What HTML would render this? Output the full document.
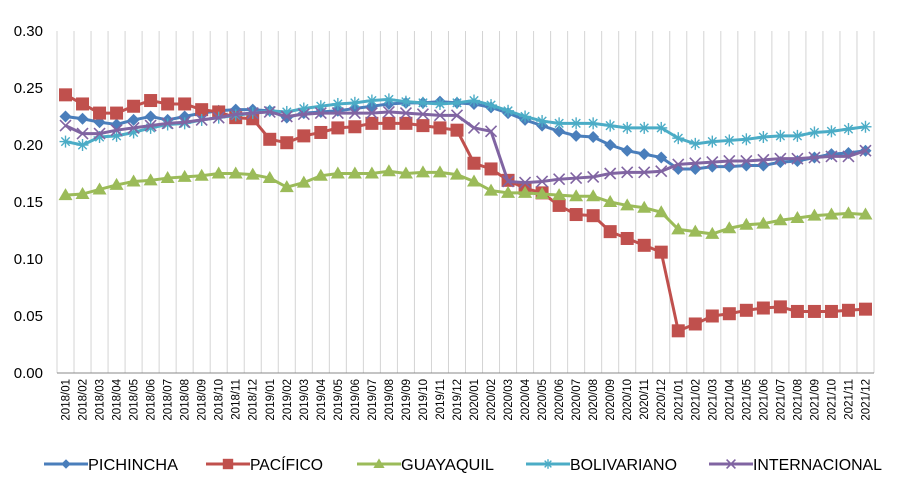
<!DOCTYPE html>
<html><head><meta charset="utf-8"><style>
body{margin:0;background:#fff;font-family:"Liberation Sans",Arial,sans-serif}
svg{display:block}
</style></head><body>
<svg id="chart" width="907" height="494" xmlns="http://www.w3.org/2000/svg" font-family="Liberation Sans, Arial, sans-serif"></svg>
<script>
const categories=[];
for(let y=2018;y<=2021;y++)for(let m=1;m<=12;m++)categories.push(y+"/"+String(m).padStart(2,"0"));
const yTicks=[0,0.05,0.10,0.15,0.20,0.25,0.30];
const yTickLabels=["0.00","0.05","0.10","0.15","0.20","0.25","0.30"];
const seriesNames=["PICHINCHA","PACÍFICO","GUAYAQUIL","BOLIVARIANO","INTERNACIONAL"];
const pichincha=[.225,.223,.220,.218,.222,.225,.222,.225,.228,.230,.231,.231,.230,.224,.228,.229,.230,.232,.234,.236,.237,.237,.238,.237,.236,.233,.228,.222,.217,.212,.208,.207,.200,.195,.192,.189,.179,.179,.181,.181,.182,.182,.185,.186,.189,.192,.193,.195];
const pacifico=[.244,.236,.228,.228,.234,.239,.236,.236,.231,.229,.224,.223,.205,.202,.208,.211,.215,.216,.219,.219,.219,.217,.215,.213,.184,.179,.169,.162,.158,.147,.139,.138,.124,.118,.112,.106,.037,.043,.050,.052,.055,.057,.058,.054,.054,.054,.055,.056];
const guayaquil=[.156,.157,.161,.165,.168,.169,.171,.172,.173,.175,.175,.174,.171,.163,.167,.173,.175,.175,.175,.177,.175,.176,.176,.174,.168,.160,.158,.158,.157,.156,.155,.155,.150,.147,.145,.141,.126,.124,.122,.127,.130,.131,.134,.136,.138,.139,.140,.139];
const bolivariano=[.203,.200,.207,.208,.211,.215,.218,.219,.222,.224,.226,.228,.230,.229,.232,.234,.236,.237,.239,.240,.238,.237,.236,.237,.239,.235,.230,.225,.221,.219,.219,.219,.217,.215,.215,.215,.206,.201,.203,.204,.205,.207,.208,.208,.211,.212,.214,.216];
const internacional=[.217,.210,.210,.213,.215,.217,.219,.220,.222,.224,.227,.228,.229,.225,.227,.228,.228,.228,.228,.229,.228,.227,.226,.226,.215,.212,.168,.167,.168,.170,.171,.172,.175,.176,.176,.177,.183,.184,.185,.186,.186,.187,.188,.188,.189,.190,.190,.195];
const allSeries=[pichincha,pacifico,guayaquil,bolivariano,internacional];
const colors=["#4a7ebb","#c0504d","#9bbb59","#4bacc6","#8064a2"];
const markers=["diamond","square","triangle","star","x"];

const NS="http://www.w3.org/2000/svg";
const svg=document.getElementById("chart");
const L=57,R=874,T=31,B=373,step=(R-L)/categories.length;
const xPos=i=>L+step*(i+0.5);
const yPos=v=>B-(v/0.30)*(B-T);
function el(t,a,p){const e=document.createElementNS(NS,t);for(const k in a)e.setAttribute(k,a[k]);(p||svg).appendChild(e);return e;}

const grid=el("g",{});


for(let i=0;i<=categories.length;i++){
  const x=L+step*i;
  el("line",{x1:x,x2:x,y1:T,y2:B,stroke:"#d4d4d4","stroke-width":1},grid);
}
const ax=el("line",{x1:L,x2:R,y1:B,y2:B,stroke:"#888","stroke-width":1});



yTicks.forEach((v,i)=>{
  const t=el("text",{x:43,y:yPos(v)+5,"text-anchor":"end","font-size":"15",fill:"#000"});
  t.textContent=yTickLabels[i];
  
  
});
categories.forEach((c,i)=>{
  const x=xPos(i)+4;
  const t=el("text",{x:x,y:379,"text-anchor":"end","font-size":"11.5",fill:"#000",transform:`rotate(-90 ${x} 379)`});
  t.textContent=c;
  
  
});

function marker(type,x,y,c,g,k){
  k=k||1;
  if(type==="diamond")el("polygon",{points:`${x},${y-6*k} ${x+6*k},${y} ${x},${y+6*k} ${x-6*k},${y}`,fill:c},g);
  else if(type==="square")el("rect",{x:x-6.5*k,y:y-6.5*k,width:13*k,height:13*k,fill:c},g);
  else if(type==="triangle")el("polygon",{points:`${x},${y-7*k} ${x+7*k},${y+5*k} ${x-7*k},${y+5*k}`,fill:c},g);
  else if(type==="star"){for(const [dx,dy] of [[6,0],[4.2,4.2],[0,6],[-4.2,4.2]])el("line",{x1:x-dx*k,y1:y-dy*k,x2:x+dx*k,y2:y+dy*k,stroke:c,"stroke-width":1.4},g);}
  else {for(const [dx,dy] of [[5.5,5.5],[-5.5,5.5]])el("line",{x1:x-dx*k,y1:y-dy*k,x2:x+dx*k,y2:y+dy*k,stroke:c,"stroke-width":1.6},g);}
}

allSeries.forEach((data,s)=>{
  const g=el("g",{});
  
  
  el("polyline",{points:data.map((v,i)=>xPos(i)+","+yPos(v)).join(" "),fill:"none",stroke:colors[s],"stroke-width":3},g);
  data.forEach((v,i)=>marker(markers[s],xPos(i),yPos(v),colors[s],g));
});

const legX=[44,206,357,526,709];
const legW=[90,73,93,107,129];
seriesNames.forEach((n,s)=>{
  const g=el("g",{});
  
  
  const x=legX[s],y=464;
  el("line",{x1:x,x2:x+44,y1:y,y2:y,stroke:colors[s],"stroke-width":3},g);
  marker(markers[s],x+22,y,colors[s],g,0.8);
  const t=el("text",{x:x+44,y:y+6,"font-size":"16",fill:"#000",textLength:legW[s],lengthAdjust:"spacingAndGlyphs"},g);
  t.textContent=n;
});
</script>
</body></html>
